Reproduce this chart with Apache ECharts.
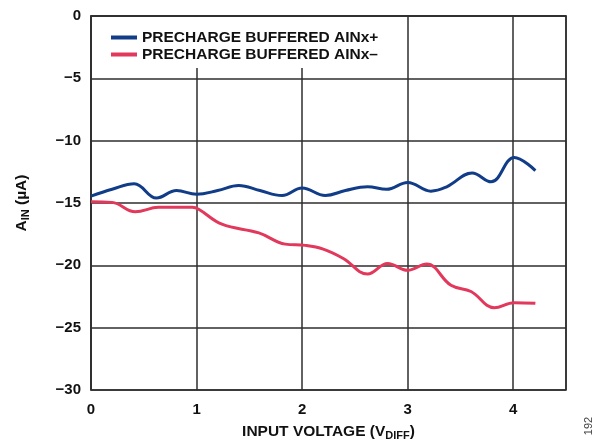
<!DOCTYPE html>
<html>
<head>
<meta charset="utf-8">
<script src="https://cdn.jsdelivr.net/npm/echarts@6/dist/echarts.min.js"></script>
<style>html,body{margin:0;padding:0;background:#fff}#c{width:600px;height:446px}</style>
</head>
<body>
<div id="c"></div>
<script>
// Data
var seriesNames = ['PRECHARGE BUFFERED AINx+', 'PRECHARGE BUFFERED AINx\u2013'];
var posVoltage = [0, 0.2, 0.41, 0.62, 0.81, 1.0, 1.2, 1.4, 1.6, 1.81, 2.0, 2.22, 2.41, 2.62, 2.8, 3.0, 3.22, 3.37, 3.61, 3.79, 4.01, 4.21];
var posCurrent = [-14.45, -13.9, -13.45, -14.6, -14.0, -14.3, -14.0, -13.6, -14.0, -14.4, -13.8, -14.4, -14.0, -13.7, -13.9, -13.35, -14.05, -13.7, -12.6, -13.3, -11.35, -12.4];
var negVoltage = [0, 0.2, 0.42, 0.64, 0.96, 1.02, 1.24, 1.59, 1.84, 2.03, 2.2, 2.39, 2.62, 2.81, 3.0, 3.18, 3.41, 3.6, 3.82, 4.01, 4.21];
var negCurrent = [-14.9, -14.95, -15.7, -15.35, -15.35, -15.5, -16.7, -17.4, -18.3, -18.4, -18.7, -19.45, -20.7, -19.85, -20.4, -19.9, -21.6, -22.1, -23.4, -23.0, -23.05];
var xTicks = [0, 1, 2, 3, 4];
var yTicks = [0, -5, -10, -15, -20, -25, -30];

function pairs(xs, ys) { return xs.map(function (x, i) { return [x, ys[i]]; }); }

var FONT = '"Liberation Sans", Arial, sans-serif';
var GRIDC = '#2e2e2e';
var chart = echarts.init(document.getElementById('c'), null, { renderer: 'canvas' });
chart.setOption({
  animation: false,
  backgroundColor: '#fff',
  grid: { left: 91, top: 16, width: 475, height: 379, show: true, borderColor: GRIDC, borderWidth: 1.5, backgroundColor: 'transparent' },
  legend: {
    left: 92, top: 17, orient: 'vertical',
    padding: [12, 10, 5, 19],
    backgroundColor: '#fff',
    itemWidth: 26, itemHeight: 4, itemGap: 0,
    icon: 'rect',
    textStyle: { fontFamily: FONT, fontWeight: 'bold', fontSize: 15.5, color: '#111', lineHeight: 17 },
    data: seriesNames
  },
  xAxis: {
    type: 'value', min: 0, max: 4.5, interval: 1,
    axisLine: { show: true, lineStyle: { color: GRIDC, width: 1.5 } },
    axisTick: { show: false },
    splitLine: { show: true, lineStyle: { color: GRIDC, width: 1.5 } },
    axisLabel: {
      margin: 12, fontFamily: FONT, fontWeight: 'bold', fontSize: 15, color: '#111',
      formatter: function (v) { return xTicks.indexOf(v) >= 0 ? String(v) : ''; }
    },
    name: '{a|INPUT VOLTAGE (V}{s|DIFF}{a|)}', nameLocation: 'middle', nameGap: 33,
    nameTextStyle: {
      rich: {
        a: { fontFamily: FONT, fontWeight: 'bold', fontSize: 15.5, color: '#111' },
        s: { fontFamily: FONT, fontWeight: 'bold', fontSize: 11, color: '#111', padding: [7, 0, 0, 0] }
      }
    }
  },
  yAxis: {
    type: 'value', min: -30, max: 0, interval: 5,
    axisLine: { show: true, lineStyle: { color: GRIDC, width: 1.5 } },
    axisTick: { show: false },
    splitLine: { show: true, lineStyle: { color: GRIDC, width: 1.5 } },
    axisLabel: {
      margin: 10, fontFamily: FONT, fontWeight: 'bold', fontSize: 15, color: '#111',
      formatter: function (v) { return yTicks.indexOf(v) < 0 ? '' : (v < 0 ? '\u2212' + Math.abs(v) : String(v)); }
    },
    name: '{a|A}{s|IN}{a| (\u00b5A)}', nameLocation: 'middle', nameGap: 60, nameRotate: 90,
    nameTextStyle: {
      rich: {
        a: { fontFamily: FONT, fontWeight: 'bold', fontSize: 15.5, color: '#111' },
        s: { fontFamily: FONT, fontWeight: 'bold', fontSize: 11, color: '#111', padding: [7, 0, 0, 0] }
      }
    }
  },
  series: [
    { name: seriesNames[0], type: 'line', data: pairs(posVoltage, posCurrent), smooth: 0.4, symbol: 'none',
      lineStyle: { color: '#103c88', width: 3 }, itemStyle: { color: '#103c88' }, z: 3 },
    { name: seriesNames[1], type: 'line', data: pairs(negVoltage, negCurrent), smooth: 0.4, symbol: 'none',
      lineStyle: { color: '#e2385c', width: 3 }, itemStyle: { color: '#e2385c' }, z: 3 }
  ],
  graphic: [{
    type: 'text', x: 589, y: 426, rotation: Math.PI / 2,
    style: { text: '192', fontFamily: FONT, fontSize: 11, fill: '#444', align: 'center', verticalAlign: 'middle' }
  }]
});
</script>
</body>
</html>
